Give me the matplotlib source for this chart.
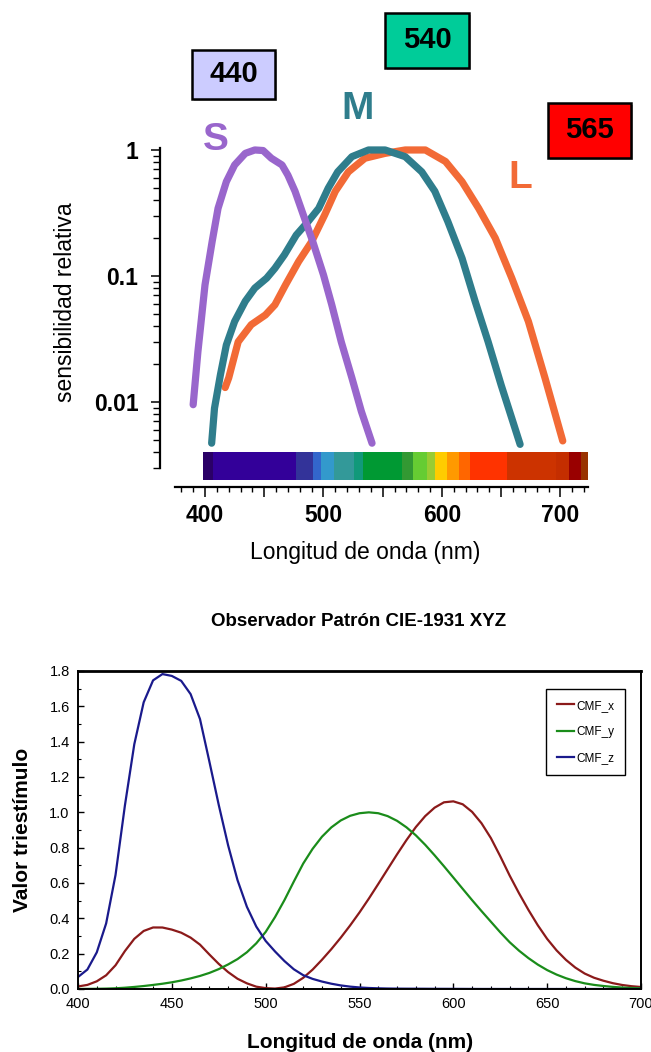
import matplotlib
matplotlib.use('Agg')
import matplotlib.pyplot as plt
from matplotlib.patches import Rectangle
from matplotlib.ticker import FixedLocator, FixedFormatter, MultipleLocator, FuncFormatter

plt.rcParams['font.family'] = ['Liberation Sans', 'DejaVu Sans']

# --- cone sensitivities (log scale) ---
s_nm = [390, 394, 400, 406, 411, 418, 425, 434, 442, 449, 456, 465, 470, 476, 483, 491, 500, 507, 515, 524, 532, 541]
s_val = [0.0095, 0.025, 0.085, 0.187, 0.344, 0.56, 0.76, 0.94, 1.0, 0.99, 0.86, 0.76, 0.63, 0.47, 0.305,
         0.187, 0.102, 0.059, 0.030, 0.0155, 0.0084, 0.0047]

m_nm = [405.6, 408, 413, 418, 425, 434, 442, 452, 459, 467, 477, 487, 496, 504, 512, 524, 538, 552,
        569, 583, 594, 605, 617, 628, 639, 650, 659, 666]
m_val = [0.0047, 0.0089, 0.0164, 0.0283, 0.0435, 0.063, 0.080, 0.096, 0.115, 0.147, 0.211, 0.27, 0.344,
         0.497, 0.67, 0.885, 1.0, 1.0, 0.885, 0.67, 0.47, 0.27, 0.138, 0.063, 0.030, 0.0136, 0.0074, 0.0046]

l_nm = [417, 420, 428, 439, 451, 459, 468, 479, 490, 501, 510, 521, 535, 552, 569, 586, 603, 617, 631,
        645, 659, 673, 687, 702]
l_val = [0.013, 0.0155, 0.030, 0.041, 0.049, 0.059, 0.085, 0.13, 0.187, 0.305, 0.47, 0.67, 0.86, 0.94,
         1.0, 1.0, 0.81, 0.56, 0.344, 0.2, 0.096, 0.0435, 0.0155, 0.0049]

peaks = ['440', '540', '565']
peak_colors = ['#ccccff', '#00cc99', '#ff0000']
cone_names = ['S', 'M', 'L']
cone_colors = ['#9966cc', '#2f7d8c', '#f26a36']

# spectrum strip under the curves
spec_edges = [398, 407, 477, 491, 498, 509, 526, 533, 566, 576, 587, 594, 604, 614, 624, 655, 696, 707, 717, 723]
spec_colors = ['#2a0066', '#330099', '#333399', '#3366cc', '#3399cc', '#339999', '#11997a', '#009933',
               '#339933', '#66cc33', '#99cc33', '#ffcc00', '#ff9900', '#ff6600', '#ff3300', '#cc3300',
               '#c42e00', '#990000', '#993300']

# --- CIE 1931 colour matching functions ---
wl = list(range(400, 705, 5))
cmf_x = [0.01431, 0.02319, 0.04351, 0.07763, 0.13438, 0.21483, 0.2839, 0.3285, 0.34828, 0.34806,
         0.3362, 0.3187, 0.2908, 0.2511, 0.19536, 0.1421, 0.09564, 0.05795, 0.03201, 0.01321,
         0.0049, 0.0024, 0.0093, 0.0291, 0.06327, 0.1096, 0.1655, 0.2257, 0.2904, 0.3597,
         0.43345, 0.5121, 0.5945, 0.6784, 0.7621, 0.8425, 0.9163, 0.9786, 1.0263, 1.0567,
         1.0622, 1.0456, 1.0026, 0.9384, 0.85445, 0.7514, 0.6424, 0.5419, 0.4479, 0.3608,
         0.2835, 0.2187, 0.1649, 0.1212, 0.0874, 0.0636, 0.04677, 0.0329, 0.0227, 0.0158, 0.01136]
cmf_y = [0.0004, 0.00064, 0.00121, 0.00218, 0.004, 0.0073, 0.0116, 0.01684, 0.023, 0.0298,
         0.038, 0.048, 0.06, 0.0739, 0.09098, 0.1126, 0.13902, 0.1693, 0.20802, 0.2586,
         0.323, 0.4073, 0.503, 0.6082, 0.71, 0.7932, 0.862, 0.9149, 0.954, 0.9803,
         0.99495, 1.0, 0.995, 0.9786, 0.952, 0.9154, 0.87, 0.8163, 0.757, 0.6949,
         0.631, 0.5668, 0.503, 0.4412, 0.381, 0.321, 0.265, 0.217, 0.175, 0.1382,
         0.107, 0.0816, 0.061, 0.0446, 0.032, 0.0232, 0.017, 0.0119, 0.00821, 0.0057, 0.0041]
cmf_z = [0.06785, 0.1102, 0.2074, 0.3713, 0.6456, 1.03905, 1.3856, 1.62296, 1.74706, 1.7826,
         1.77211, 1.7441, 1.6692, 1.5281, 1.28764, 1.0419, 0.81295, 0.6162, 0.46518, 0.3533,
         0.272, 0.2123, 0.1582, 0.1117, 0.07825, 0.0573, 0.04216, 0.0299, 0.0203, 0.0134,
         0.00875, 0.0057, 0.0039, 0.0027, 0.0021, 0.0018, 0.00165, 0.0014, 0.0011, 0.001,
         0.0008, 0.0006, 0.00034, 0.0002, 0.00019, 0.0001, 0.00005, 0.00003, 0.00002, 0.00001,
         0, 0, 0, 0, 0, 0, 0, 0, 0, 0, 0]
cmf_names = ['CMF_x', 'CMF_y', 'CMF_z']
cmf_colors = ['#8b1a1a', '#1a8c1a', '#1a1a8c']

W, H = 651, 1052
fig = plt.figure(figsize=(W / 100, H / 100), dpi=100)


def fx(px):
    return px / W


def fy(py):
    return 1 - py / H


# ---------------- top panel ----------------
ax1 = fig.add_axes([fx(160), fy(487), 430 / W, 347 / H])
ax1.set_yscale('log')
for nm, val, c in zip([l_nm, m_nm, s_nm], [l_val, m_val, s_val], cone_colors[::-1]):
    ax1.plot(nm, val, color=c, lw=5.2, solid_capstyle='round', solid_joinstyle='round')

# spectrum strip
for i, c in enumerate(spec_colors):
    ax1.broken_barh([(spec_edges[i], spec_edges[i + 1] - spec_edges[i])], (0.0024, 0.0040 - 0.0024),
                    facecolor=c, edgecolor='none')

ax1.set_xlim(362, 725)
ax1.set_ylim(0.00211, 1.2)
for sp in ['top', 'right']:
    ax1.spines[sp].set_visible(False)
ax1.spines['left'].set_bounds(0.003, 1.04)
ax1.spines['bottom'].set_bounds(375, 723)
ax1.spines['left'].set_linewidth(1.6)
ax1.spines['bottom'].set_linewidth(1.6)

ax1.yaxis.set_major_locator(FixedLocator([0.01, 0.1, 1]))
ax1.yaxis.set_major_formatter(FixedFormatter(['0.01', '0.1', '1']))
ax1.yaxis.set_minor_locator(FixedLocator([k * 10.0 ** e for e in (-3, -2, -1) for k in range(2, 10)]))
ax1.yaxis.set_minor_formatter(FixedFormatter([]))
ax1.tick_params(axis='y', which='major', direction='out', length=6.5, width=1.1, pad=9)
ax1.tick_params(axis='y', which='minor', direction='out', length=5, width=1.0)

ax1.xaxis.set_major_locator(FixedLocator(list(range(400, 701, 50))))
ax1.xaxis.set_major_formatter(FuncFormatter(lambda v, p: f'{int(v)}' if int(v) % 100 == 0 else ''))
ax1.xaxis.set_minor_locator(FixedLocator(list(range(380, 721, 10))))
ax1.tick_params(axis='x', which='major', direction='out', length=7, width=1.1, pad=5)
ax1.tick_params(axis='x', which='minor', direction='out', length=3.5, width=1.0)
for lab in ax1.get_xticklabels() + ax1.get_yticklabels():
    lab.set_fontsize(16.5)
    lab.set_fontweight('bold')

fig.text(fx(365), fy(553), 'Longitud de onda (nm)', fontsize=16.5, ha='center', va='center')
fig.text(fx(65), fy(302), 'sensibilidad relativa', fontsize=16.5, ha='center', va='center', rotation=90)

# peak boxes
boxes = [(192, 50, 275, 99), (385, 13, 469, 68), (548, 103, 631, 158)]
for (x0, y0, x1, y1), txt, c in zip(boxes, peaks, peak_colors):
    fig.patches.append(Rectangle((fx(x0 + 2), fy(y1 + 2)), (x1 - x0) / W, (y1 - y0) / H,
                                 transform=fig.transFigure, facecolor='#bbbbbb', edgecolor='none'))
    fig.patches.append(Rectangle((fx(x0), fy(y1)), (x1 - x0) / W, (y1 - y0) / H,
                                 transform=fig.transFigure, facecolor=c, edgecolor='black', lw=1.8))
    fig.text(fx((x0 + x1) / 2), fy((y0 + y1) / 2), txt, fontsize=21, fontweight='bold',
             ha='center', va='center')

for name, c, (px, py) in zip(cone_names, cone_colors, [(216, 140), (358, 109), (520, 178)]):
    fig.text(fx(px), fy(py), name, fontsize=28, fontweight='bold', color=c, ha='center', va='center')

# ---------------- bottom panel ----------------
ax2 = fig.add_axes([fx(78), fy(989), 563 / W, 318 / H])
for vals, c, name in zip([cmf_x, cmf_y, cmf_z], cmf_colors, cmf_names):
    ax2.plot(wl, vals, color=c, lw=1.6, label=name, solid_joinstyle='round')
ax2.set_xlim(400, 700)
ax2.set_ylim(0, 1.8)
ax2.xaxis.set_major_locator(MultipleLocator(50))
ax2.xaxis.set_minor_locator(MultipleLocator(10))
ax2.yaxis.set_major_locator(MultipleLocator(0.2))
ax2.yaxis.set_minor_locator(MultipleLocator(0.1))
ax2.yaxis.set_major_formatter(FuncFormatter(lambda v, p: f'{v:.1f}'))
ax2.tick_params(which='major', direction='in', length=4, width=1.0, labelsize=10.5, pad=6)
ax2.tick_params(which='minor', direction='in', length=2.5, width=0.8)
for sp in ax2.spines.values():
    sp.set_linewidth(1.4)
ax2.spines['top'].set_linewidth(2)

ax2.legend(loc='upper right', bbox_to_anchor=(0.9707, 0.9434), borderaxespad=0, fontsize=8.5,
           fancybox=False, edgecolor='black', framealpha=1, handlelength=1.4, handletextpad=0.2,
           labelspacing=1.2, borderpad=0.9).get_frame().set_linewidth(1.0)

fig.text(fx(359), fy(622), 'Observador Patrón CIE-1931 XYZ', fontsize=13.5, fontweight='bold',
         ha='center', va='center')
fig.text(fx(23), fy(830), 'Valor triestímulo', fontsize=15, fontweight='bold', ha='center',
         va='center', rotation=90)
fig.text(fx(360), fy(1043), 'Longitud de onda (nm)', fontsize=15, fontweight='bold', ha='center',
         va='center')

fig.savefig('out.png', dpi=100)
